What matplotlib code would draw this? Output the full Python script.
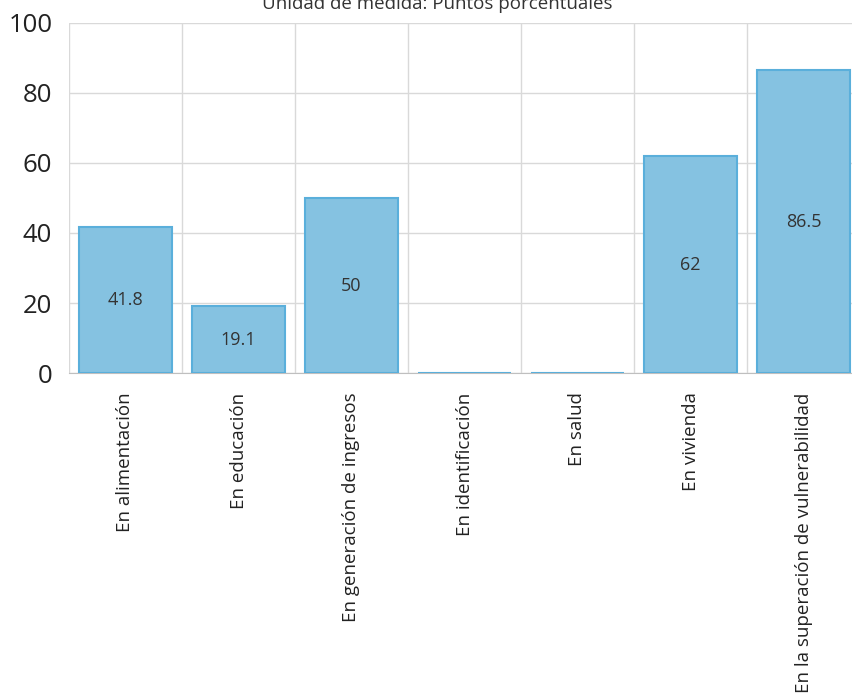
import matplotlib
matplotlib.use("Agg")
import matplotlib.pyplot as plt
import numpy as np

categories = ["En alimentación", "En educación", "En generación de ingresos",
              "En identificación", "En salud", "En vivienda",
              "En la superación de vulnerabilidad"]
values = [41.8, 19.1, 50, 0, 0, 62, 86.5]
yticks = [0, 20, 40, 60, 80, 100]
title = "Unidad de medida: Puntos porcentuales"

plt.rcParams['font.family'] = ['Open Sans', 'DejaVu Sans']

fig = plt.figure(figsize=(8.52, 6.98), dpi=100)
ax = fig.add_axes([69/852, 1 - 373/698, 791/852, 350/698])

x = np.arange(len(categories))
ax.bar(x, values, width=0.82, color="#85c2e1", edgecolor="#5aafdb", linewidth=1.5, zorder=3)

for xi, v in zip(x, values):
    if v > 0:
        ax.text(xi, v / 2, f"{v:g}", ha="center", va="center", fontsize=13, color="#333333", zorder=4)

ax.set_xlim(-0.5, len(categories) - 0.5)
ax.set_ylim(0, 100)
ax.set_yticks(yticks)
ax.set_yticklabels([str(t) for t in yticks], fontsize=18.5, color="#222222")
ax.set_xticks(x)
ax.set_xticklabels(categories, rotation=90, fontsize=13.5, color="#222222", va="top")
ax.set_xticks(np.arange(-0.5, len(categories)), minor=True)
ax.grid(True, axis="y", color="#d9d9d9", linewidth=1, zorder=0)
ax.grid(True, axis="x", which="minor", color="#d9d9d9", linewidth=1, zorder=0)
ax.tick_params(axis="both", which="both", length=0)
ax.tick_params(axis="x", pad=14)
ax.tick_params(axis="y", pad=12)
for s in ["top", "right", "left"]:
    ax.spines[s].set_visible(False)
ax.spines["bottom"].set_color("#bfbfbf")

fig.text(437/852, 1 - 9/698, title, ha="center", va="baseline", fontsize=13.5, color="#333333")

fig.savefig("out.png", dpi=100)
